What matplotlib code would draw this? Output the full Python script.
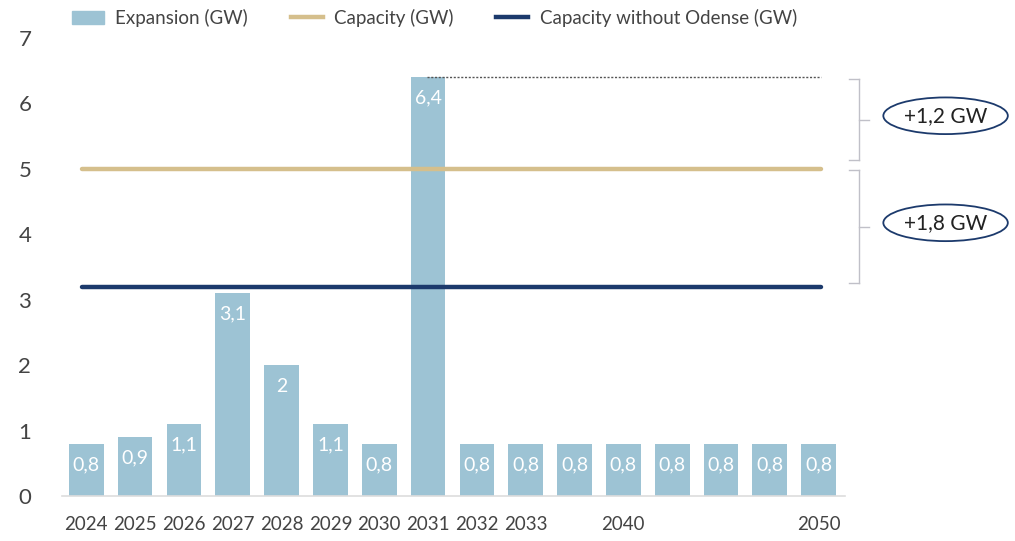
import numpy as np
import matplotlib.pyplot as plt
from matplotlib.patches import Ellipse
from matplotlib.lines import Line2D

plt.rcParams['font.family'] = ['Lato', 'DejaVu Sans']

# Data
years = ['2024', '2025', '2026', '2027', '2028', '2029', '2030', '2031',
         '2032', '2033', '', '2040', '', '', '', '2050']
expansion = [0.8, 0.9, 1.1, 3.1, 2.0, 1.1, 0.8, 6.4,
             0.8, 0.8, 0.8, 0.8, 0.8, 0.8, 0.8, 0.8]
capacity = 5.0
capacity_wo_odense = 3.2
gap_labels = ['+1,2 GW', '+1,8 GW']

bar_color = '#9dc3d4'
cap_color = '#d5bf8c'
navy = '#1c3a6c'
text_gray = '#444444'

fig = plt.figure(figsize=(10.15, 5.41), dpi=100)
ax = fig.add_axes([0.061, 0.083, 0.772, 0.847])

x = np.arange(len(years))
bars = ax.bar(x, expansion, width=0.71, color=bar_color, zorder=2,
              label='Expansion (GW)')

ax.plot([x[0] - 0.08, x[-1] + 0.04], [capacity, capacity], color=cap_color,
        lw=3.2, solid_capstyle='round', zorder=3, label='Capacity (GW)')
ax.plot([x[0] - 0.08, x[-1] + 0.04], [capacity_wo_odense, capacity_wo_odense],
        color=navy, lw=3.2, solid_capstyle='round', zorder=3,
        label='Capacity without Odense (GW)')

# value labels inside bars
for xi, v in zip(x, expansion):
    txt = ('%g' % v).replace('.', ',')
    ax.annotate(txt, (xi, v), xytext=(0, -15), textcoords='offset points',
                ha='center', va='center', color='white', fontsize=14, zorder=4)

# dotted line from the 2031 peak
peak = int(np.argmax(expansion))
ax.plot([x[peak] - 0.02, x[-1] + 0.04], [expansion[peak], expansion[peak]],
        color='#555555', lw=1, ls=(0, (1.5, 1.2)), zorder=3)

ax.set_xlim(-0.5, 15.55)
ax.set_ylim(0, 7)
ax.set_xticks(x)
ax.set_xticklabels(years)
ax.set_yticks(range(8))
ax.tick_params(axis='x', length=0, pad=14, labelsize=13.5, colors=text_gray)
ax.tick_params(axis='y', length=0, pad=22, labelsize=16, colors=text_gray)
for s in ['top', 'right', 'left']:
    ax.spines[s].set_visible(False)
ax.spines['bottom'].set_color('#dddddd')
ax.spines['bottom'].set_linewidth(1.2)

# brackets on the right
def bracket(y0, y1, label):
    xb = 15.83
    kw = dict(color='#c0c0c8', lw=1, clip_on=False)
    ax.plot([xb, xb], [y0, y1], **kw)
    ax.plot([xb - 0.2, xb], [y0, y0], **kw)
    ax.plot([xb - 0.2, xb], [y1, y1], **kw)
    ym = (y0 + y1) / 2
    ax.plot([xb, xb + 0.2], [ym, ym], **kw)
    ex = 17.6
    ey = ym + 0.06
    ax.add_patch(Ellipse((ex, ey), 2.55, 0.56, fill=False, edgecolor=navy,
                         lw=1.3, clip_on=False))
    ax.text(ex, ey, label, ha='center', va='center', fontsize=15,
            color='#222222', clip_on=False)

bracket(capacity + 0.13, expansion[peak] - 0.03, gap_labels[0])
bracket(capacity_wo_odense + 0.05, capacity - 0.02, gap_labels[1])

handles = [plt.Rectangle((0, 0), 1, 1, color=bar_color),
           Line2D([], [], color=cap_color, lw=3.2),
           Line2D([], [], color=navy, lw=3.2)]
fig.legend(handles, ['Expansion (GW)', 'Capacity (GW)', 'Capacity without Odense (GW)'],
           loc='upper left', bbox_to_anchor=(0.054, 1.015), ncol=3, frameon=False,
           fontsize=13.5, labelcolor=text_gray, handlelength=1.7, columnspacing=2.3,
           handletextpad=0.6)

fig.savefig('out.png', dpi=100)
